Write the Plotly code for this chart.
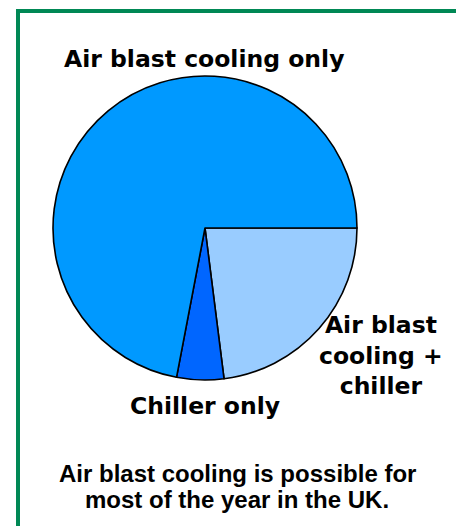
import plotly.graph_objects as go

labels = ["Air blast cooling + chiller", "Chiller only", "Air blast cooling only"]
values = [23, 5, 72]
colors = ["#99CCFF", "#0066FF", "#0099FF"]

W, H = 464, 526
OFF = 8  # page body margin in the browser

def px(x, y):
    return (x - OFF) / W, 1 - (y - OFF) / H

cx, cy, r = 205, 228, 152
x0, y1 = px(cx - r, cy - r)
x1, y0 = px(cx + r, cy + r)

fig = go.Figure(go.Pie(
    labels=labels, values=values, sort=False, direction="clockwise", rotation=90,
    marker=dict(colors=colors, line=dict(color="black", width=1.6)),
    textinfo="none", hoverinfo="label+percent", showlegend=False,
    domain=dict(x=[x0, x1], y=[y0, y1]),
))

lab_font = dict(family="DejaVu Sans", size=23.5, color="black", weight="bold")
foot_font = dict(family="Liberation Sans, Arial, sans-serif", size=24, color="black", weight="bold")

ann = []
x, y = px(204, 59)
ann.append(dict(x=x, y=y, text="Air blast cooling only", font=lab_font))
x, y = px(381, 355)
ann.append(dict(x=x, y=y, text="Air blast<br>cooling +<br>chiller", font=lab_font))
x, y = px(205, 406)
ann.append(dict(x=x, y=y, text="Chiller only", font=lab_font))
x, y = px(237, 473)
ann.append(dict(x=x, y=y, text="Air blast cooling is possible for", font=foot_font))
x, y = px(237, 499)
ann.append(dict(x=x, y=y, text="most of the year in the UK.", font=foot_font))
for a in ann:
    a.update(xref="paper", yref="paper", showarrow=False, xanchor="center", yanchor="middle")

fx0, fy1 = px(18, 11)
fx1, _ = px(458, 0)

fig.update_layout(
    width=W, height=H, margin=dict(l=0, r=0, t=0, b=0),
    paper_bgcolor="white", plot_bgcolor="white",
    annotations=ann,
    shapes=[dict(type="rect", xref="paper", yref="paper",
                 x0=fx0, x1=fx1, y0=-0.05, y1=fy1,
                 line=dict(color="#008855", width=4))],
)
fig.write_html("out.html")
